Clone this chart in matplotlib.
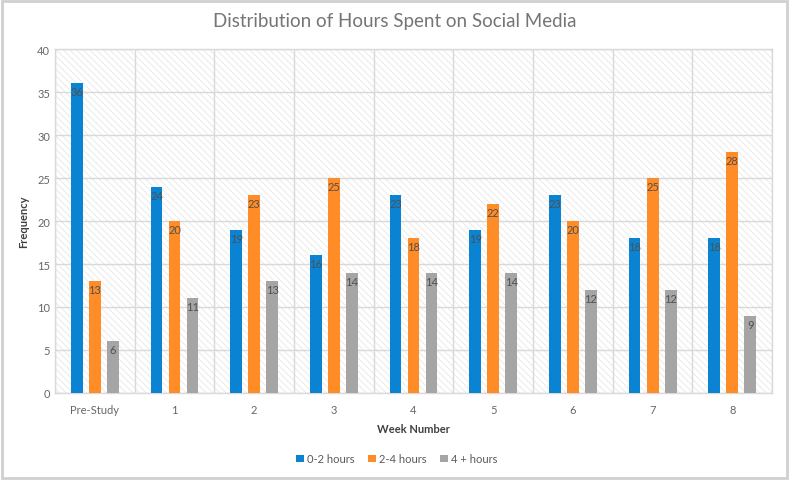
import numpy as np
import matplotlib
matplotlib.use("Agg")
import matplotlib.pyplot as plt
from matplotlib.patches import Rectangle

# data
weeks = ["Pre-Study", "1", "2", "3", "4", "5", "6", "7", "8"]
hours_0_2 = [36, 24, 19, 16, 23, 19, 23, 18, 18]
hours_2_4 = [13, 20, 23, 25, 18, 22, 20, 25, 28]
hours_4_plus = [6, 11, 13, 14, 14, 14, 12, 12, 9]

series = [
    ("0-2 hours", hours_0_2, "#0a84d2"),
    ("2-4 hours", hours_2_4, "#ff8c26"),
    ("4 + hours", hours_4_plus, "#a5a5a5"),
]

plt.rcParams['font.family'] = ['Lato', 'DejaVu Sans']
plt.rcParams['hatch.linewidth'] = 0.5

fig = plt.figure(figsize=(7.89, 4.81), dpi=100)
ax = fig.add_axes([0.0697, 0.1809, 0.9088, 0.7151])

# hatched plot-area background
ax.add_patch(Rectangle((0, 0), 1, 1, transform=ax.transAxes, facecolor="white",
                       edgecolor="#e2e2e2", hatch="\\\\\\\\\\", lw=0, zorder=0))

x = np.arange(len(weeks))
width = 0.15
offset = 0.226
for i, (name, vals, color) in enumerate(series):
    pos = x + (i - 1) * offset
    bars = ax.bar(pos, vals, width, color=color, label=name, zorder=3)
    for b, v in zip(bars, vals):
        ax.text(b.get_x() + b.get_width() / 2, v - 0.35, str(v), ha="center", va="top",
                fontsize=8, color="#505050", zorder=4)

ax.set_xlim(-0.5, len(weeks) - 0.5)
ax.set_ylim(0, 40)
ax.set_yticks(range(0, 41, 5))
ax.set_xticks(x)
ax.set_xticklabels(weeks)
ax.set_xticks(np.arange(-0.5, len(weeks), 1), minor=True)
ax.grid(True, which="minor", axis="x", color="#d9d9d9", lw=1, zorder=1)
ax.grid(True, which="major", axis="y", color="#d9d9d9", lw=1, zorder=1)
ax.tick_params(which="both", length=0, labelsize=8, colors="#666666")
ax.tick_params(axis="x", pad=8)
for s in ax.spines.values():
    s.set_color("#d9d9d9")
    s.set_linewidth(1)

ax.set_xlabel("Week Number", fontsize=8, fontweight="bold", color="#404040", labelpad=6)
ax.set_ylabel("Frequency", fontsize=8, fontweight="bold", color="#404040", labelpad=6)
fig.suptitle("Distribution of Hours Spent on Social Media", y=0.972, fontsize=13.5, color="#757575")

fig.legend(loc="center", bbox_to_anchor=(0.503, 0.044), ncol=3, frameon=False,
           fontsize=8, handlelength=0.7, handleheight=0.7, handletextpad=0.3,
           columnspacing=1.2, labelcolor="#595959")

# light frame around the whole figure
fig.add_artist(Rectangle((0.002, 0.004), 0.996, 0.992, transform=fig.transFigure,
                         fill=False, edgecolor="#d0d0d0", lw=2))

fig.savefig("out.png", dpi=100)
